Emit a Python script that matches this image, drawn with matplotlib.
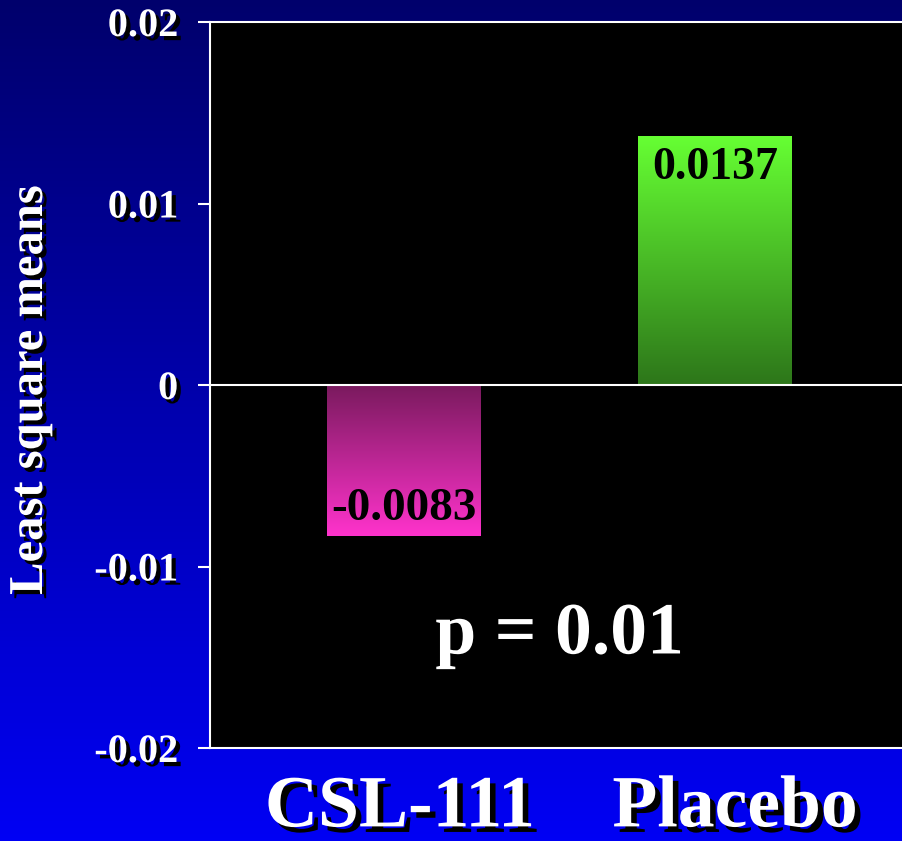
import matplotlib
matplotlib.use('agg')
import matplotlib.pyplot as plt
import matplotlib.patheffects as pe
from matplotlib.colors import LinearSegmentedColormap
from matplotlib.transforms import ScaledTranslation
import numpy as np

categories = ['CSL-111', 'Placebo']
values = [-0.0083, 0.0137]
value_labels = ['-0.0083', '0.0137']
yticks = [0.02, 0.01, 0, -0.01, -0.02]
ytick_labels = ['0.02', '0.01', '0', '-0.01', '-0.02']
ylabel = 'Least square means'
pvalue_text = 'p = 0.01'

# bar gradients: (top colour, bottom colour)
bar_grads = [('#7a1a5e', '#ff33cc'), ('#66ff33', '#2d761a')]

plt.rcParams['font.family'] = ['Liberation Serif', 'DejaVu Serif']
plt.rcParams['font.weight'] = 'bold'

fig = plt.figure(figsize=(9.03, 8.41), dpi=100)

# background gradient, dark navy to blue
bg = fig.add_axes([0, 0, 1, 1])
bg_cmap = LinearSegmentedColormap.from_list('bg', ['#00006c', '#0000f4'])
bg.imshow(np.linspace(0, 1, 256).reshape(-1, 1), cmap=bg_cmap, aspect='auto',
          extent=[0, 1, 0, 1], origin='upper')
bg.set_axis_off()

shadow = [pe.SimplePatchShadow(offset=(3, -3), shadow_rgbFace='black', alpha=1), pe.Normal()]
big_shadow = [pe.SimplePatchShadow(offset=(4, -4), shadow_rgbFace='black', alpha=1), pe.Normal()]

ax = fig.add_axes([210 / 903, 93 / 841, 1 - 210 / 903, 726 / 841])
ax.set_facecolor('black')
x = np.arange(len(categories))
bars = ax.bar(x, values, width=0.495, color='none', edgecolor='none')
for patch, (ctop, cbot) in zip(bars, bar_grads):
    x0, y0 = patch.get_x(), patch.get_y()
    w, h = patch.get_width(), patch.get_height()
    cm = LinearSegmentedColormap.from_list('g', [ctop, cbot])
    ylo, yhi = min(y0, y0 + h), max(y0, y0 + h)
    im = ax.imshow(np.linspace(0, 1, 256).reshape(-1, 1), cmap=cm, aspect='auto',
                   extent=[x0, x0 + w, ylo, yhi], origin='upper', zorder=2)
    im.set_clip_path(patch)

ax.set_xlim(-0.624, 1.605)
ax.set_ylim(-0.02, 0.02)
ax.axhline(0, color='white', lw=1.5, zorder=3)

for xi, v, lab in zip(x, values, value_labels):
    if v < 0:
        ax.text(xi, v + 0.0003, lab, ha='center', va='bottom', fontsize=34,
                color='black', fontweight='bold', zorder=4)
    else:
        ax.text(xi, v - 0.0006, lab, ha='center', va='top', fontsize=33,
                color='black', fontweight='bold', zorder=4)

ax.text(0.5, -0.0138, pvalue_text, ha='center', va='center', fontsize=53,
        color='white', fontweight='bold', path_effects=big_shadow, zorder=4)

ax.set_yticks(yticks)
ax.set_yticklabels(ytick_labels)
ax.tick_params(axis='y', colors='white', length=9, width=1.5, pad=14, labelsize=29)
for t in ax.get_yticklabels():
    t.set_path_effects(shadow)
    t.set_fontweight('bold')
ax.set_xticks(x)
ax.set_xticklabels(categories)
ax.tick_params(axis='x', length=0, pad=19, labelsize=53, colors='white')
for t, dx in zip(ax.get_xticklabels(), [-4, 20]):
    t.set_path_effects(big_shadow)
    t.set_fontweight('bold')
    t.set_transform(t.get_transform() + ScaledTranslation(dx / 100, 0, fig.dpi_scale_trans))

for s in ['left', 'top', 'bottom']:
    ax.spines[s].set_color('white')
    ax.spines[s].set_linewidth(1.5)
ax.spines['right'].set_visible(False)

fig.text(30 / 903, 1 - 390 / 841, ylabel, rotation=90, ha='center', va='center',
         fontsize=35, color='white', fontweight='bold', path_effects=shadow)

fig.savefig('out.png', dpi=100, facecolor=fig.get_facecolor())
